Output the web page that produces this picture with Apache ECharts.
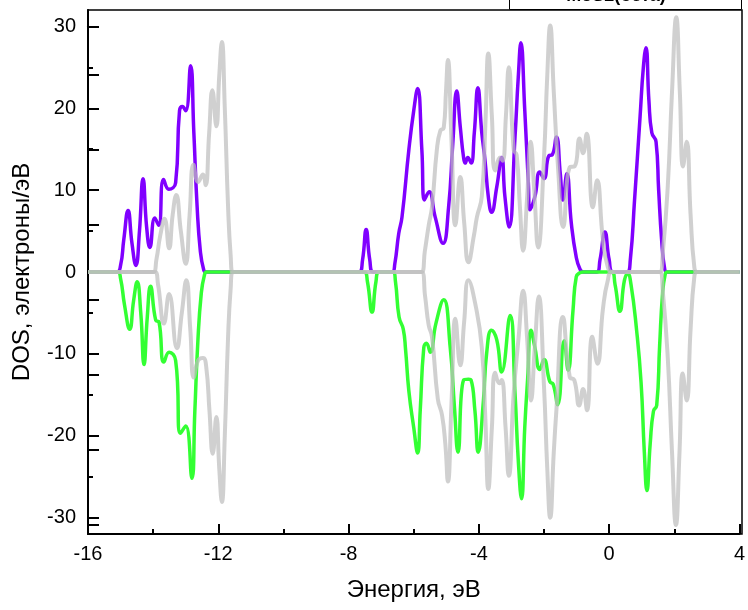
<!DOCTYPE html>
<html><head><meta charset="utf-8">
<script src="https://cdn.jsdelivr.net/npm/echarts@6/dist/echarts.min.js"></script>
<style>html,body{margin:0;padding:0;background:#fff}#c{width:748px;height:610px}</style>
</head><body><div id="c"></div>
<script>
// Energy (eV) / DOS pairs
const spinUp = [[-16,0],[-15.12,0],[-15.0,0.8],[-14.9,4],[-14.77,7.5],[-14.65,3.5],[-14.53,0.8],[-14.42,5],[-14.31,11.4],[-14.2,5.5],[-14.1,3.0],[-13.95,6.6],[-13.83,5.7],[-13.68,11.3],[-13.52,10.1],[-13.31,10.9],[-13.19,19.7],[-13.10,20.2],[-13.0,19.7],[-12.85,25.2],[-12.75,17],[-12.65,8],[-12.55,2.5],[-12.45,0.3],[-12.38,0],
[-7.68,0],[-7.57,1.5],[-7.46,5.2],[-7.35,1.5],[-7.24,0],
[-6.66,0],[-6.58,1.0],[-6.46,4.7],[-6.36,6.7],[-6.15,14.9],[-6.0,19.7],[-5.88,22.4],[-5.75,14.9],[-5.67,8.8],[-5.53,9.8],[-5.34,6.7],[-5.10,3.5],[-4.93,7.9],[-4.80,15.7],[-4.68,22.1],[-4.57,17.7],[-4.47,14.0],[-4.42,13.3],[-4.34,14.0],[-4.24,13.3],[-4.14,17],[-4.03,22.5],[-3.91,17],[-3.81,13.6],[-3.71,9.2],[-3.61,7.3],[-3.45,10.4],[-3.30,14.0],[-3.20,9.2],[-3.07,5.5],[-2.89,16.5],[-2.79,23.8],[-2.71,28.0],[-2.59,19.7],[-2.48,10.8],[-2.43,7.6],[-2.28,9.2],[-2.13,12.2],[-2.0,11.4],[-1.85,14.2],[-1.75,14.3],[-1.62,16.5],[-1.50,12],[-1.42,8.8],[-1.30,12.0],[-1.16,5.9],[-1.01,1.8],[-0.9,0.4],[-0.80,0],
[-0.38,0],[-0.28,1.5],[-0.13,4.9],[0.0,1.5],[0.12,0],
[0.55,0],[0.65,1.5],[0.78,8.8],[0.95,19],[1.05,25],[1.13,27.4],[1.22,21],[1.31,17],[1.44,15.9],[1.52,10],[1.61,4],[1.70,0.5],[1.78,0],[4,0]];

const spinDown = [[-16,0],[-15.1,0],[-15.0,-0.8],[-14.88,-4],[-14.72,-7.0],[-14.6,-3.5],[-14.49,-1.2],[-14.38,-5],[-14.28,-11.3],[-14.18,-5.5],[-14.08,-1.75],[-13.92,-5.9],[-13.82,-6.1],[-13.67,-11.0],[-13.51,-9.8],[-13.31,-10.8],[-13.16,-19.7],[-13.0,-18.8],[-12.81,-25.2],[-12.72,-17],[-12.63,-8.7],[-12.52,-2.5],[-12.42,-0.3],[-12.36,0],
[-7.52,0],[-7.42,-1.2],[-7.28,-4.9],[-7.16,-1.2],[-7.06,0],
[-6.64,0],[-6.56,-1.2],[-6.45,-5.5],[-6.32,-7.0],[-6.25,-9.5],[-6.15,-14.5],[-6.0,-19],[-5.88,-22.1],[-5.80,-16.9],[-5.69,-9.2],[-5.61,-8.7],[-5.49,-9.8],[-5.32,-6.3],[-5.08,-3.4],[-4.88,-9.2],[-4.75,-16.5],[-4.64,-22.0],[-4.47,-13.2],[-4.32,-13.1],[-4.24,-13.2],[-4.12,-17],[-4.02,-22.0],[-3.86,-15.7],[-3.76,-9.9],[-3.61,-7.1],[-3.45,-8.3],[-3.30,-12.2],[-3.04,-5.3],[-2.89,-14.8],[-2.79,-23],[-2.69,-27.7],[-2.59,-18.9],[-2.50,-12.9],[-2.40,-7.1],[-2.28,-9.2],[-2.13,-11.9],[-2.0,-10.7],[-1.82,-13.4],[-1.72,-13.7],[-1.58,-16.2],[-1.38,-8.4],[-1.26,-12.0],[-1.11,-4.7],[-1.01,-0.6],[-0.90,-0.1],[-0.80,0],
[0.08,0],[0.18,-1.5],[0.33,-4.8],[0.47,-1.0],[0.57,-0.2],[0.67,-1.5],[0.84,-7],[0.98,-13.5],[1.08,-22],[1.16,-26.7],[1.26,-21],[1.36,-17],[1.46,-16.3],[1.55,-9],[1.64,-2.6],[1.72,-0.3],[1.78,0],[4,0]];

const refUp = [[-16,0],[-14.0,0],[-13.9,1.5],[-13.78,4.5],[-13.65,6.5],[-13.51,2.9],[-13.40,7],[-13.29,9.4],[-13.15,5],[-13.0,1.0],[-12.88,7],[-12.76,13.1],[-12.62,11.0],[-12.47,11.9],[-12.39,10.6],[-12.28,17],[-12.18,22.2],[-12.06,17.8],[-11.97,24],[-11.89,28.1],[-11.80,20],[-11.70,8],[-11.62,2],[-11.55,0],
[-5.76,0],[-5.66,2.5],[-5.54,5.7],[-5.44,7.9],[-5.29,14.9],[-5.18,17.3],[-5.08,17.6],[-5.01,22],[-4.95,25.9],[-4.84,16],[-4.72,5.7],[-4.57,11.6],[-4.45,6],[-4.32,1.2],[-4.15,4.5],[-4.06,6.7],[-3.91,9.2],[-3.80,18],[-3.71,26.7],[-3.60,19],[-3.50,12.4],[-3.35,14.0],[-3.27,13.6],[-3.17,19],[-3.08,25.0],[-2.93,14.9],[-2.84,14.3],[-2.74,8],[-2.64,2.6],[-2.52,9],[-2.41,15.9],[-2.30,10],[-2.18,3.0],[-2.0,14],[-1.90,24],[-1.81,30.1],[-1.70,22],[-1.57,12.8],[-1.41,5.5],[-1.21,12.8],[-1.06,12.9],[-0.91,16.3],[-0.80,14.5],[-0.69,16.9],[-0.50,7.9],[-0.37,11.2],[-0.19,3.9],[-0.04,0.6],[0.10,0],
[1.55,0],[1.65,2.5],[1.80,10.5],[1.93,22],[2.06,31.1],[2.17,22],[2.27,12.9],[2.38,15.9],[2.50,7],[2.61,0.8],[2.70,0],[4,0]];

const refDown = [[-16,0],[-13.95,0],[-13.85,-1.5],[-13.67,-6.3],[-13.51,-2.7],[-13.27,-9.3],[-13.12,-5],[-12.98,-1.0],[-12.86,-7],[-12.75,-12.9],[-12.62,-10.8],[-12.47,-10.5],[-12.37,-11.6],[-12.27,-17],[-12.17,-22.2],[-12.06,-17.7],[-11.97,-24],[-11.89,-28.1],[-11.80,-20],[-11.70,-8],[-11.62,-2],[-11.55,0],
[-5.76,0],[-5.65,-3],[-5.54,-6.5],[-5.44,-7.9],[-5.26,-15.5],[-5.13,-17.5],[-5.03,-21],[-4.95,-25.6],[-4.84,-16],[-4.72,-5.7],[-4.57,-11.4],[-4.45,-6],[-4.32,-1.0],[-4.11,-3.9],[-3.91,-9.2],[-3.80,-18],[-3.71,-26.5],[-3.60,-19],[-3.50,-12.3],[-3.37,-13.6],[-3.30,-13.2],[-3.18,-19],[-3.08,-24.9],[-2.93,-14.8],[-2.78,-8],[-2.64,-2.3],[-2.52,-8],[-2.40,-15.7],[-2.28,-9],[-2.16,-3.0],[-2.0,-14],[-1.90,-24],[-1.81,-30.0],[-1.70,-22],[-1.62,-16.9],[-1.42,-5.5],[-1.21,-12.8],[-1.07,-13.2],[-0.92,-16.3],[-0.80,-14.3],[-0.68,-16.9],[-0.52,-7.9],[-0.36,-11.2],[-0.19,-4.5],[-0.04,-1.0],[0.10,0],
[1.55,0],[1.65,-2.5],[1.80,-10.5],[1.93,-22],[2.05,-30.9],[2.16,-22],[2.26,-12.4],[2.38,-15.7],[2.50,-7],[2.61,-0.8],[2.70,0],[4,0]];

// axis extents and tick settings
const xRange = [-16, 4], xStep = 4;
const yRange = [-32, 32];                  // full plotting frame
const yTickRange = [-30, 30], yStep = 10;  // labelled range
const yHelperRange = [-40, 40];            // helper scale whose minor ticks fall on every 10
const boxTitle = 'MoS2(бета)';
const xTitle = 'Энергия, эВ';
const yTitle = 'DOS, электроны/эВ';

const FONT = '"Liberation Sans", Arial, sans-serif';
const chart = echarts.init(document.getElementById('c'), null, {renderer: 'canvas'});
const line2 = () => ({color: '#000', width: 2});

const F = {left: 88, right: 6, top: 10, bottom: 76, height: 524};
const pxPerUnit = F.height / (yRange[1] - yRange[0]);
const padTop = (yRange[1] - yTickRange[1]) * pxPerUnit;
const padBottom = (yTickRange[0] - yRange[0]) * pxPerUnit;
const helpTop = (yHelperRange[1] - yRange[1]) * pxPerUnit;
const helpBottom = (yRange[0] - yHelperRange[0]) * pxPerUnit;

function lineSeries(data, color, width) {
  return {type: 'line', data: data, showSymbol: false, smooth: 0.5, xAxisIndex: 0, yAxisIndex: 0, clip: false,
    lineStyle: {color: color, width: width}, emphasis: {disabled: true}, silent: true};
}
chart.setOption({
  animation: false,
  backgroundColor: '#fff',
  grid: [
    // data grid: spans exactly the labelled y range
    {left: F.left, right: F.right, top: F.top + padTop, bottom: F.bottom + padBottom, show: false},
    // frame grid: the full box
    {left: F.left, right: F.right, top: F.top, bottom: F.bottom, show: true, borderColor: '#000', borderWidth: 1.5, backgroundColor: 'transparent'},
    // helper grid for the long y ticks
    {left: F.left, right: F.right, top: F.top - helpTop, bottom: F.bottom - helpBottom, show: false}
  ],
  xAxis: [
    {type: 'value', gridIndex: 0, min: xRange[0], max: xRange[1], interval: xStep, position: 'bottom', offset: padBottom,
     axisLine: {show: true, onZero: false, lineStyle: line2()},
     axisTick: {show: true, inside: true, length: 10, lineStyle: line2()},
     minorTick: {show: true, splitNumber: 2, length: 5, lineStyle: line2()},
     splitLine: {show: false}, minorSplitLine: {show: false},
     axisLabel: {fontSize: 20, color: '#000', margin: 10, fontFamily: FONT},
     name: xTitle, nameLocation: 'middle', nameGap: 44,
     nameTextStyle: {fontSize: 24, color: '#000', fontFamily: FONT}},
    {type: 'value', gridIndex: 1, min: xRange[0], max: xRange[1], show: false},
    {type: 'value', gridIndex: 2, min: xRange[0], max: xRange[1], show: false}
  ],
  yAxis: [
    {type: 'value', gridIndex: 0, min: yTickRange[0], max: yTickRange[1], interval: yStep, position: 'left',
     axisLine: {show: true, onZero: false, lineStyle: line2()},
     axisTick: {show: true, inside: true, length: 11, lineStyle: line2()},
     minorTick: {show: true, splitNumber: 2, length: 5, lineStyle: line2()},
     axisLabel: {fontSize: 20, color: '#000', margin: 12, fontFamily: FONT},
     splitLine: {show: false}, minorSplitLine: {show: false}},
    {type: 'value', gridIndex: 1, min: yRange[0], max: yRange[1], position: 'left',
     axisLine: {show: true, onZero: false, lineStyle: line2()},
     axisTick: {show: false}, axisLabel: {show: false}, splitLine: {show: false},
     name: yTitle, nameLocation: 'middle', nameGap: 54,
     nameTextStyle: {fontSize: 24, color: '#000', fontFamily: FONT}},
    {type: 'value', gridIndex: 2, min: yHelperRange[0], max: yHelperRange[1],
     interval: yHelperRange[1] - yHelperRange[0], position: 'left',
     axisLine: {show: false, onZero: false},
     axisTick: {show: false, inside: true},
     minorTick: {show: true, splitNumber: (yHelperRange[1] - yHelperRange[0]) / yStep, length: 11, lineStyle: line2()},
     axisLabel: {show: false}, splitLine: {show: false}, minorSplitLine: {show: false}}
  ],
  graphic: [
    {type: 'rect', shape: {x: 509.5, y: -30, width: 232, height: 39.5}, style: {fill: '#fff', stroke: '#000', lineWidth: 1}, z: 100},
    {type: 'text', x: 616, y: -4, style: {text: boxTitle, font: 'bold 18px ' + FONT, fill: '#000', textAlign: 'center', textVerticalAlign: 'middle'}, z: 101}
  ],
  series: [
    lineSeries(spinUp, '#8000ff', 3.5),
    lineSeries(spinDown, '#33ff33', 3.5),
    lineSeries(refUp, 'rgba(190,190,190,0.72)', 4),
    lineSeries(refDown, 'rgba(190,190,190,0.72)', 4)
  ]
});
</script></body></html>
